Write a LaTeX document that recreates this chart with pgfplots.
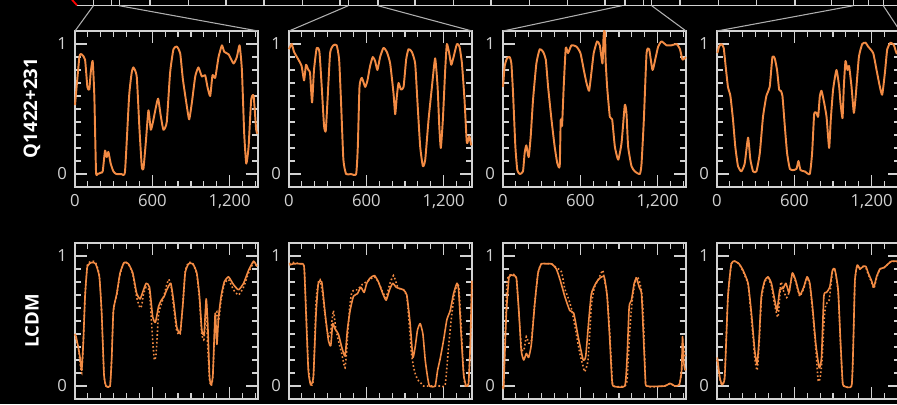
\documentclass[border=0pt]{standalone}
\usepackage{pgfplots}
\pgfplotsset{compat=1.18}
\usepackage{fontspec}
\setmainfont{Open Sans}
\definecolor{orng}{RGB}{242,139,68}
\definecolor{axgray}{RGB}{210,210,210}
\definecolor{lngray}{RGB}{175,175,175}
\pgfplotsset{
 panel/.style={
  scale only axis, width=137.25pt, height=117pt, anchor=south west,
  xmin=0, xmax=1420, ymin=-0.1, ymax=1.1,
  axis line style={axgray, line width=0.9pt},
  every tick/.style={axgray, line width=0.9pt},
  xtick={0,600,1200}, minor xtick={100,200,300,400,500,700,800,900,1000,1100,1300,1400},
  ytick={0,1}, minor ytick={0.1,0.2,0.3,0.4,0.5,0.6,0.7,0.8,0.9},
  tick align=inside, xtick pos=both, ytick pos=both,
  major tick length=9pt, minor tick length=4.5pt,
  ticklabel style={font=\fontsize{12.5}{13}\selectfont, text=axgray},
  xticklabel style={yshift=-2pt},
  yticklabel style={xshift=-2.5pt},
  /pgf/number format/assume math mode=true,
  clip=false,
 },
 toprow/.style={panel, xticklabels={0,600,{1,200}}, yticklabels={0,1}},
 botrow/.style={panel, xticklabels={}, yticklabels={0,1}},
 obs/.style={orng, line width=1.45pt, line join=round, smooth, tension=0.3},
 sim/.style={orng, line width=1.2pt, line join=round, smooth, tension=0.3},
 simd/.style={orng, line width=1.2pt, dash pattern=on 1.2pt off 1.7pt, smooth, tension=0.3},
}
\begin{document}
\begin{tikzpicture}
\fill[black] (0,0) rectangle (672.75pt,303pt);
% ---------- strip ----------
\begin{axis}[at={(57.5pt,298.7pt)}, anchor=south west, scale only axis,
  width=615.2pt, height=10pt, xmin=76.7, xmax=897, ymin=0, ymax=10,
  hide y axis, axis x line*=bottom, x axis line style={-, axgray, line width=0.9pt},
  xtick={93.3,111.7,119.3,150,188.3,226,264,302.3,340,348.3,378,415,453.3,491,529.3,567.7,605,625,643.3,651.7,680,718.3,756.7,795,831.7,853.3,868.3,883.3},
  xticklabels={}, tick align=inside, major tick length=10pt,
  every tick/.style={axgray, line width=0.9pt}, clip=false]
\addplot[red, line width=1.3pt] coordinates {(68.5,7.5) (77,0.3)};
\end{axis}
% ---------- top row ----------
\begin{axis}[toprow, name=p1, at={(56.25pt,162.75pt)}]
\addplot[obs] coordinates {(0,0.53) (34,0.90) (52,0.92) (78,0.88) (96,0.67) (111,0.65) (122,0.78) (137,0.87) (150,0.60) (163,0.02) (175,0.0) (200,0.01) (215,0.02) (233,0.18) (246,0.13) (259,0.17) (277,0.08) (298,0.02) (320,0.0) (360,0.0) (388,0.02) (420,0.60) (440,0.78) (453,0.82) (479,0.75) (500,0.35) (518,0.06) (531,0.04) (550,0.25) (570,0.49) (588,0.34) (605,0.40) (625,0.50) (645,0.58) (665,0.45) (686,0.34) (712,0.40) (738,0.78) (764,0.96) (790,0.98) (816,0.93) (837,0.73) (868,0.52) (886,0.42) (907,0.55) (933,0.75) (958,0.82) (984,0.75) (1010,0.76) (1028,0.67) (1049,0.60) (1067,0.76) (1088,0.74) (1114,0.90) (1140,0.99) (1158,0.94) (1192,0.92) (1230,0.85) (1256,0.90) (1277,0.99) (1295,0.80) (1313,0.31) (1329,0.08) (1347,0.21) (1367,0.57) (1386,0.60) (1406,0.34) (1416,0.31)};
\end{axis}
\begin{axis}[toprow, name=p2, at={(216.75pt,162.75pt)}]
\addplot[obs] coordinates {(0,0.96) (21,1.0) (39,0.94) (73,0.88) (98,0.83) (117,0.72) (132,0.84) (150,0.80) (163,0.78) (179,0.55) (194,0.80) (215,0.97) (236,0.94) (254,0.67) (272,0.37) (285,0.33) (298,0.55) (319,0.93) (344,0.99) (370,0.99) (389,0.88) (404,0.55) (422,0.11) (443,0.0) (480,0.0) (521,0.0) (534,0.21) (547,0.67) (565,0.74) (591,0.67) (609,0.72) (629,0.83) (650,0.90) (668,0.87) (686,0.80) (707,0.90) (733,0.97) (759,0.94) (785,0.85) (811,0.62) (824,0.46) (837,0.60) (850,0.70) (868,0.65) (889,0.67) (909,0.88) (927,0.96) (953,0.94) (979,0.85) (997,0.55) (1018,0.21) (1039,0.06) (1057,0.11) (1083,0.42) (1109,0.67) (1134,0.89) (1153,0.67) (1166,0.37) (1178,0.20) (1194,0.42) (1212,0.80) (1225,1.0) (1243,0.93) (1259,0.84) (1277,0.90) (1303,1.0) (1323,0.98) (1342,0.85) (1362,0.57) (1380,0.24) (1399,0.29) (1414,0.22)};
\end{axis}
\begin{axis}[toprow, name=p3, at={(377.25pt,162.75pt)}]
\addplot[obs] coordinates {(0,0.67) (13,0.83) (31,0.89) (52,0.90) (65,0.85) (78,0.62) (96,0.21) (111,0.03) (130,0.0) (155,0.02) (168,0.16) (181,0.22) (199,0.13) (215,0.29) (233,0.57) (259,0.85) (285,0.96) (311,0.94) (332,0.88) (350,0.67) (376,0.42) (401,0.21) (422,0.08) (440,0.06) (448,0.42) (458,0.37) (471,0.67) (487,0.97) (505,0.93) (531,0.99) (570,0.98) (601,0.93) (627,0.80) (648,0.70) (668,0.64) (686,0.78) (704,0.93) (730,1.02) (751,0.99) (772,0.85) (780,1.05) (785,1.1) (792,1.08) (796,0.88) (808,0.67) (829,0.44) (847,0.42) (868,0.21) (894,0.11) (920,0.24) (945,0.53) (958,0.47) (971,0.21) (997,0.06) (1023,0.02) (1062,0.0) (1075,0.08) (1093,0.42) (1114,0.93) (1134,0.96) (1160,0.80) (1181,0.88) (1204,0.98) (1230,1.02) (1269,0.99) (1308,0.99) (1347,1.0) (1373,0.96) (1393,0.88) (1419,0.90)};
\end{axis}
\begin{axis}[toprow, name=p4, at={(537.75pt,162.75pt)}]
\addplot[obs] coordinates {(3,0.93) (16,0.98) (34,1.0) (52,0.97) (67,0.83) (85,0.67) (104,0.60) (124,0.42) (142,0.21) (163,0.06) (189,0.02) (215,0.08) (241,0.28) (259,0.11) (280,0.02) (306,0.02) (332,0.16) (357,0.44) (383,0.60) (409,0.67) (430,0.90) (448,0.89) (466,0.80) (482,0.65) (495,0.64) (508,0.60) (526,0.37) (544,0.16) (565,0.04) (591,0.03) (617,0.04) (632,0.10) (648,0.03) (681,0.02) (720,0.0) (738,0.16) (754,0.46) (772,0.47) (785,0.44) (798,0.60) (811,0.64) (829,0.56) (850,0.44) (870,0.20) (883,0.42) (901,0.65) (927,0.80) (948,0.67) (958,0.55) (974,0.43) (984,0.67) (997,0.87) (1012,0.80) (1025,0.83) (1044,0.67) (1062,0.47) (1078,0.62) (1101,0.90) (1127,1.0) (1153,1.01) (1173,0.98) (1212,0.93) (1238,0.80) (1264,0.67) (1282,0.61) (1303,0.78) (1321,0.96) (1347,1.01) (1373,0.99) (1393,0.93) (1420,0.92)};
\end{axis}
% ---------- bottom row ----------
\begin{axis}[botrow, name=q1, at={(56.25pt,3.75pt)}]
\addplot[simd] coordinates {(0,0.40) (8,0.36) (26,0.30) (39,0.18) (52,0.10) (65,0.35) (78,0.69) (96,0.93) (130,0.96) (160,0.95) (189,0.85) (207,0.56) (225,0.09) (241,0) (272,0) (285,0.22) (298,0.58) (324,0.70) (350,0.86) (381,0.95) (414,0.94) (448,0.86) (479,0.68) (505,0.60) (518,0.62) (530,0.70) (552,0.76) (578,0.72) (603,0.35) (616,0.20) (630,0.25) (648,0.55) (670,0.63) (692,0.70) (712,0.78) (728,0.82) (743,0.78) (764,0.62) (790,0.42) (816,0.40) (837,0.63) (855,0.88) (881,0.95) (914,0.94) (945,0.86) (966,0.66) (984,0.40) (1002,0.36) (1018,0.62) (1030,0.30) (1044,0.05) (1057,0) (1070,0.08) (1088,0.52) (1101,0.57) (1114,0.50) (1134,0.66) (1158,0.78) (1191,0.82) (1230,0.74) (1269,0.70) (1308,0.76) (1347,0.87) (1386,0.95) (1412,0.92)};
\addplot[sim] coordinates {(0,0.40) (8,0.38) (21,0.32) (39,0.22) (52,0.12) (65,0.35) (78,0.69) (96,0.92) (130,0.95) (160,0.94) (189,0.84) (207,0.56) (225,0.09) (241,0) (272,0) (285,0.22) (298,0.58) (324,0.71) (350,0.87) (381,0.95) (414,0.94) (448,0.87) (479,0.71) (505,0.67) (525,0.72) (552,0.79) (578,0.76) (603,0.53) (624,0.49) (648,0.61) (670,0.66) (692,0.69) (712,0.74) (743,0.79) (764,0.66) (790,0.45) (816,0.41) (837,0.63) (855,0.87) (881,0.94) (914,0.94) (945,0.87) (966,0.69) (984,0.43) (1002,0.40) (1018,0.67) (1030,0.48) (1044,0.07) (1057,0.01) (1070,0.09) (1088,0.56) (1101,0.32) (1114,0.53) (1134,0.69) (1158,0.80) (1191,0.84) (1230,0.78) (1269,0.74) (1308,0.79) (1347,0.89) (1386,0.96) (1412,0.92)};
\end{axis}
\begin{axis}[botrow, name=q2, at={(216.75pt,3.75pt)}]
\addplot[simd] coordinates {(0,0.94) (34,0.95) (85,0.94) (117,0.92) (132,0.60) (150,0.15) (168,0.01) (189,0.05) (210,0.65) (228,0.80) (241,0.82) (262,0.70) (285,0.50) (306,0.38) (324,0.42) (344,0.58) (362,0.45) (383,0.35) (409,0.25) (435,0.14) (453,0.35) (470,0.60) (487,0.72) (510,0.74) (531,0.74) (557,0.77) (578,0.79) (603,0.80) (629,0.82) (663,0.84) (694,0.80) (728,0.72) (754,0.68) (780,0.78) (811,0.85) (840,0.77) (857,0.75) (888,0.74) (914,0.69) (935,0.45) (950,0.25) (966,0.15) (984,0.08) (1005,0.04) (1025,0.02) (1044,0.0) (1090,0) (1173,0) (1212,0.01) (1238,0.30) (1264,0.56) (1290,0.74) (1316,0.77) (1334,0.50) (1355,0.10) (1368,0) (1393,0.02) (1406,0.30) (1419,0.80)};
\addplot[sim] coordinates {(3,0.93) (34,0.94) (85,0.94) (117,0.92) (132,0.56) (150,0.12) (168,0.01) (189,0.07) (210,0.56) (228,0.79) (254,0.80) (280,0.56) (306,0.35) (324,0.31) (339,0.48) (357,0.44) (383,0.40) (409,0.30) (435,0.23) (453,0.43) (474,0.58) (500,0.69) (531,0.71) (557,0.76) (583,0.72) (603,0.79) (629,0.83) (663,0.85) (694,0.80) (728,0.71) (754,0.66) (780,0.74) (805,0.79) (831,0.76) (857,0.75) (888,0.74) (914,0.70) (940,0.48) (961,0.22) (979,0.30) (997,0.43) (1018,0.48) (1039,0.40) (1057,0.20) (1075,0.07) (1090,0) (1134,0) (1153,0.12) (1173,0.21) (1199,0.35) (1225,0.51) (1251,0.58) (1277,0.71) (1303,0.79) (1316,0.74) (1334,0.43) (1355,0.09) (1375,0) (1393,0.02) (1406,0.30) (1419,0.81)};
\end{axis}
\begin{axis}[botrow, name=q3, at={(377.25pt,3.75pt)}]
\addplot[simd] coordinates {(0,0) (5,0) (20,0.5) (31,0.80) (47,0.85) (78,0.86) (104,0.83) (124,0.55) (142,0.30) (161,0.27) (181,0.38) (199,0.33) (220,0.35) (246,0.63) (272,0.87) (298,0.94) (337,0.94) (376,0.94) (414,0.91) (453,0.88) (479,0.75) (505,0.68) (530,0.60) (560,0.45) (596,0.25) (622,0.15) (634,0.11) (660,0.20) (686,0.62) (710,0.76) (740,0.82) (774,0.89) (790,0.80) (808,0.70) (829,0.40) (844,0.12) (855,0) (945,0) (963,0.05) (984,0.43) (1005,0.68) (1036,0.84) (1057,0.81) (1075,0.73) (1088,0.56) (1101,0.17) (1114,0) (1256,0) (1295,0.02) (1334,0) (1368,0.01) (1386,0.12) (1399,0.30) (1414,0.22)};
\addplot[sim] coordinates {(0,0) (5,0) (26,0.56) (47,0.84) (78,0.85) (104,0.83) (124,0.56) (142,0.27) (161,0.20) (181,0.25) (199,0.22) (220,0.32) (246,0.63) (272,0.87) (298,0.94) (337,0.94) (376,0.94) (414,0.90) (445,0.81) (479,0.69) (518,0.58) (549,0.56) (583,0.38) (622,0.20) (642,0.23) (666,0.51) (686,0.71) (720,0.79) (751,0.83) (785,0.84) (808,0.69) (829,0.35) (844,0.07) (855,0) (945,0) (963,0.22) (979,0.61) (997,0.66) (1018,0.79) (1036,0.83) (1057,0.76) (1075,0.71) (1088,0.43) (1104,0.07) (1114,0) (1256,0) (1295,0.02) (1334,0) (1368,0.01) (1386,0.12) (1393,0.38) (1404,0.17) (1414,0.12)};
\end{axis}
\begin{axis}[botrow, name=q4, at={(537.75pt,3.75pt)}]
\addplot[simd] coordinates {(0,0.20) (21,0.06) (39,0.01) (60,0.08) (85,0.68) (111,0.94) (137,0.96) (171,0.94) (202,0.88) (241,0.78) (267,0.52) (293,0.22) (311,0.12) (326,0.30) (344,0.66) (370,0.80) (396,0.83) (422,0.77) (448,0.62) (474,0.53) (495,0.80) (513,0.74) (540,0.68) (559,0.72) (585,0.86) (611,0.80) (642,0.69) (673,0.75) (699,0.83) (720,0.78) (741,0.58) (767,0.28) (785,0.04) (800,0.06) (815,0.20) (832,0.52) (845,0.63) (870,0.66) (896,0.88) (914,0.90) (940,0.72) (958,0.33) (974,0.03) (984,0) (1044,0) (1057,0.30) (1070,0.80) (1088,0.93) (1109,0.90) (1134,0.92) (1155,0.91) (1173,0.86) (1199,0.80) (1217,0.75) (1238,0.83) (1264,0.90) (1295,0.91) (1329,0.94) (1355,0.96) (1420,0.95)};
\addplot[sim] coordinates {(3,0.22) (21,0.07) (39,0.01) (60,0.07) (85,0.69) (111,0.94) (137,0.96) (171,0.94) (202,0.89) (241,0.79) (267,0.56) (293,0.27) (311,0.17) (326,0.35) (344,0.69) (370,0.81) (396,0.84) (422,0.79) (448,0.66) (466,0.58) (487,0.74) (513,0.75) (535,0.79) (559,0.72) (585,0.87) (611,0.81) (642,0.70) (673,0.76) (699,0.84) (720,0.79) (741,0.61) (767,0.32) (793,0.14) (811,0.22) (829,0.69) (850,0.72) (875,0.76) (896,0.89) (914,0.90) (940,0.74) (958,0.35) (974,0.04) (984,0) (1044,0) (1057,0.30) (1070,0.81) (1088,0.93) (1109,0.90) (1134,0.92) (1155,0.92) (1173,0.87) (1199,0.81) (1217,0.76) (1238,0.84) (1264,0.90) (1295,0.91) (1329,0.94) (1355,0.96) (1420,0.96)};
\end{axis}
% ---------- connectors and row labels ----------
\draw[lngray, line width=0.8pt] (70pt,298.7pt) -- (p1.north west);
\draw[lngray, line width=0.8pt] (89.5pt,298.7pt) -- (p1.north east);
\draw[lngray, line width=0.8pt] (261.2pt,298.7pt) -- (p2.north west);
\draw[lngray, line width=0.8pt] (283.5pt,298.7pt) -- (p2.north east);
\draw[lngray, line width=0.8pt] (466.3pt,298.7pt) -- (p3.north west);
\draw[lngray, line width=0.8pt] (488.8pt,298.7pt) -- (p3.north east);
\draw[lngray, line width=0.8pt] (640pt,298.7pt) -- (p4.north west);
\draw[lngray, line width=0.8pt] (662.5pt,298.7pt) -- (p4.north east);
\node[rotate=90, text=white, font=\bfseries\fontsize{14}{14}\selectfont] at (24pt,222pt) {Q1422+231};
\node[rotate=90, text=white, font=\bfseries\fontsize{14}{14}\selectfont] at (24pt,62.25pt) {LCDM};
\pgfresetboundingbox
\path[use as bounding box] (0,0) rectangle (672.75pt,303pt);
\end{tikzpicture}
\end{document}
